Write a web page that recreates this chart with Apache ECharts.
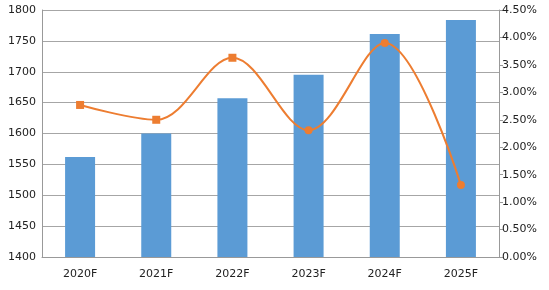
<!DOCTYPE html>
<html><head><meta charset="utf-8">
<script src="https://cdn.jsdelivr.net/npm/echarts@6/dist/echarts.min.js"></script>
<style>html,body{margin:0;padding:0;background:#fff}#c{width:549px;height:290px}</style>
</head><body><div id="c"></div>
<script>
var categories = ['2020F','2021F','2022F','2023F','2024F','2025F'];
var barValues = [1562, 1600, 1657, 1695, 1761, 1784];
var rateValues = [2.77, 2.50, 3.63, 2.31, 3.90, 1.31];
var rateSymbols = ['rect','rect','rect','circle','circle','circle'];

var chart = echarts.init(document.getElementById('c'));
chart.setOption({
  animation: false,
  grid: {left: 42, right: 50, top: 10, bottom: 33},
  xAxis: {
    type: 'category', data: categories,
    axisLine: {show: true, lineStyle: {color: '#999'}},
    axisTick: {show: false},
    axisLabel: {color: '#222', fontSize: 11, fontFamily: 'DejaVu Sans', margin: 12}
  },
  yAxis: [{
    type: 'value', min: 1400, max: 1800, interval: 50,
    axisLine: {show: true, lineStyle: {color: '#999'}},
    axisTick: {show: false},
    axisLabel: {color: '#222', fontSize: 11, fontFamily: 'DejaVu Sans', margin: 6,
      formatter: function (v) { return String(v); }},
    splitLine: {lineStyle: {color: '#a6a6a6', width: 1}}
  }, {
    type: 'value', min: 0, max: 4.5, interval: 0.5, position: 'right',
    axisLine: {show: true, lineStyle: {color: '#999'}},
    axisTick: {show: true, length: 4, lineStyle: {color: '#999'}},
    axisLabel: {color: '#222', fontSize: 11, fontFamily: 'DejaVu Sans', margin: 3,
      formatter: function (v) { return v.toFixed(2) + '%'; }},
    splitLine: {show: false}
  }],
  series: [{
    type: 'bar', data: barValues, barWidth: 30,
    itemStyle: {color: '#5b9bd5'}
  }, {
    type: 'line', yAxisIndex: 1, smooth: 0.35,
    data: rateValues.map(function (v, i) { return {value: v, symbol: rateSymbols[i]}; }),
    symbolSize: 8,
    lineStyle: {color: '#ed7d31', width: 2},
    itemStyle: {color: '#ed7d31'}
  }]
});
</script></body></html>
